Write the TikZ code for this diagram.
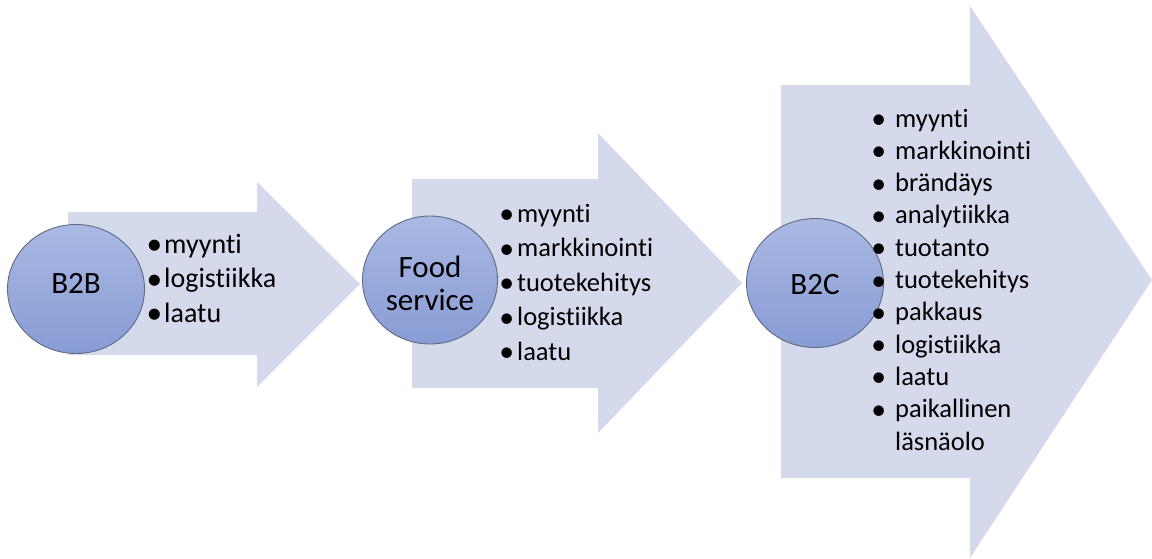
\documentclass[tikz,border=0pt]{standalone}
\usepackage{fontspec}
\setmainfont{Carlito}[Ligatures={NoCommon,NoRequired,NoContextual}]
\usetikzlibrary{shapes.geometric}
\definecolor{arrowfill}{RGB}{212,217,236}
\definecolor{circtop}{RGB}{170,184,227}
\definecolor{circbot}{RGB}{136,156,213}
\definecolor{circline}{RGB}{95,105,128}
\newcommand{\bt}[2]{\makebox[0pt][r]{\raisebox{-0.06em}{\scalebox{1.12}{•}}\hspace{#1pt}}#2}
\tikzset{
  arrowshape/.style={fill=arrowfill, draw=none},
  hub/.style={ellipse, draw=circline, line width=0.9pt, top color=circtop, bottom color=circbot, inner sep=0pt},
  hublabel/.style={font=\fontsize{31}{33}\selectfont, anchor=base, inner sep=0pt},
  item/.style={font=\fontsize{26.5}{30}\selectfont, anchor=base west, inner sep=0pt},
  bigitem/.style={item, font=\fontsize{28}{32}\selectfont}
}
\begin{document}
\begin{tikzpicture}[x=1pt,y=-1pt]
\useasboundingbox (0,0) rectangle (1152,558);
% arrows
\fill[arrowshape] (68,212) -- (257,212) -- (257,182) -- (360,284) -- (257,387) -- (257,355) -- (68,355) -- cycle;
\fill[arrowshape] (412,179) -- (598,179) -- (598,133) -- (742,283) -- (598,433) -- (598,388) -- (412,388) -- cycle;
\fill[arrowshape] (781,85) -- (970,85) -- (970,6) -- (1152,280) -- (970,558) -- (970,478) -- (781,478) -- cycle;
% circles
\node[hub, minimum width=137, minimum height=129] (c1) at (76,289) {};
\node[hub, minimum width=135, minimum height=128] (c2) at (430,280) {};
\node[hub, minimum width=137, minimum height=129] (c3) at (815,283) {};
\node[hublabel] (l1) at (76,293) {B2B};
\node[hublabel] (l2a) at (430,277) {Food};
\node[hublabel] (l2b) at (430,310) {service};
\node[hublabel] (l3) at (815,294) {B2C};
% list 1
\node[bigitem] (a1) at (164,253) {\bt{2}{myynti}};
\node[bigitem] (a2) at (164,287.5) {\bt{2}{logistiikka}};
\node[bigitem] (a3) at (164,322) {\bt{2}{laatu}};
% list 2
\node[item] (b1) at (517,222) {\bt{3}{myynti}};
\node[item] (b2) at (517,256.5) {\bt{3}{markkinointi}};
\node[item] (b3) at (517,291) {\bt{3}{tuotekehitys}};
\node[item] (b4) at (517,325.5) {\bt{3}{logistiikka}};
\node[item] (b5) at (517,360) {\bt{3}{laatu}};
% list 3
\node[item] (d1) at (895,127) {\bt{9}{myynti}};
\node[item] (d2) at (895,159.3) {\bt{9}{markkinointi}};
\node[item] (d3) at (895,191.6) {\bt{9}{brändäys}};
\node[item] (d4) at (895,223.9) {\bt{9}{analytiikka}};
\node[item] (d5) at (895,256.2) {\bt{9}{tuotanto}};
\node[item] (d6) at (895,288.5) {\bt{9}{tuotekehitys}};
\node[item] (d7) at (895,320.8) {\bt{9}{pakkaus}};
\node[item] (d8) at (895,353.1) {\bt{9}{logistiikka}};
\node[item] (d9) at (895,385.4) {\bt{9}{laatu}};
\node[item] (d10) at (895,417.7) {\bt{9}{paikallinen}};
\node[item] (d11) at (895,450) {läsnäolo};
\end{tikzpicture}
\end{document}
